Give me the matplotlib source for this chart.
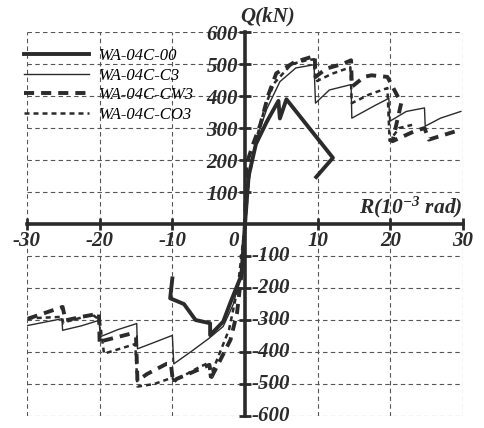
import numpy as np
import matplotlib
matplotlib.use('Agg')
import matplotlib.pyplot as plt

# skeleton curves, R in 1e-3 rad, Q in kN
x_00 = [-10.0, -10.3, -8.4, -6.8, -4.8, -4.8, -3.0, -2.0, -0.5, 0.0,
        0.5, 1.5, 3.0, 4.6, 4.8, 5.7, 12.1, 9.8]
y_00 = [-170, -232, -250, -300, -310, -347, -305, -245, -160, 0,
        150, 250, 320, 385, 330, 390, 207, 147]

x_c3 = [-29.9, -25.2, -25.1, -22.5, -20.1, -19.9, -17.5, -14.9, -14.8, -12.5,
        -10.0, -9.8, -7.5, -5.0, -3.0, -1.6, -0.5, 0.0,
        0.5, 1.5, 3.0, 4.8, 7.0, 9.5, 9.7, 11.6, 14.6, 14.7, 18.0, 19.8,
        19.9, 22.2, 24.7, 24.8, 26.9, 29.7]
y_c3 = [-317, -296, -332, -318, -301, -352, -330, -311, -390, -370,
        -348, -437, -400, -358, -320, -250, -150, 0,
        150, 260, 360, 445, 488, 498, 378, 419, 436, 331, 372, 393,
        321, 352, 363, 306, 331, 352]

x_cw3 = [-29.9, -25.1, -24.7, -22.5, -20.1, -20.0, -19.4, -15.8, -15.0, -14.8,
         -13.5, -10.8, -10.2, -9.9, -9.4, -6.2, -4.9, -4.6, -3.4, -2.0,
         -1.1, -0.3, 0.0,
         0.2, 1.1, 2.1, 3.2, 4.3, 6.8, 9.1, 9.6, 9.7, 11.2, 13.5, 14.6,
         14.7, 16.4, 17.4, 19.6, 21.5, 20.3, 23.3, 24.7, 25.3, 29.7]
y_cw3 = [-296, -259, -301, -290, -280, -375, -364, -343, -352, -490,
         -469, -437, -437, -495, -484, -453, -440, -478, -425, -362,
         -278, -120, 0,
         187, 249, 310, 403, 471, 506, 522, 525, 460, 486, 501, 512,
         429, 460, 465, 460, 378, 259, 290, 300, 264, 295]

x_co3 = [-29.9, -25.2, -25.0, -24.4, -21.0, -20.0, -19.4, -15.1, -14.8, -12.5,
         -10.0, -9.8, -7.8, -6.2, -5.0, -4.8, -3.6, -2.2, -1.0, 0.0,
         0.6, 1.5, 2.8, 4.0, 6.4, 8.5, 9.5, 9.7, 12.0, 14.5, 14.7, 17.1,
         19.6, 19.9, 21.2, 23.0]
y_co3 = [-295, -290, -310, -304, -283, -300, -405, -375, -508, -500,
         -480, -490, -466, -446, -434, -478, -410, -330, -200, 0,
         150, 260, 370, 440, 500, 512, 515, 445, 470, 490, 378, 405,
         425, 260, 300, 310]

names = ['WA-04C-00', 'WA-04C-C3', 'WA-04C-CW3', 'WA-04C-CO3']
x_ticks = [-30, -20, -10, 10, 20, 30]
y_ticks = [-600, -500, -400, -300, -200, -100, 100, 200, 300, 400, 500, 600]

ink = '#2b2b2b'
plt.rcParams['mathtext.fontset'] = 'custom'
plt.rcParams['mathtext.rm'] = 'Liberation Serif:bold:italic'
plt.rcParams['mathtext.it'] = 'Liberation Serif:bold:italic'
plt.rcParams['mathtext.bf'] = 'Liberation Serif:bold:italic'

fig = plt.figure(figsize=(4.84, 4.28), dpi=100)
ax = fig.add_axes([0.0558, 0.028, 0.9008, 0.897])

ax.plot(x_00, y_00, color=ink, lw=2.8, label=names[0], zorder=4)
ax.plot(x_c3, y_c3, color=ink, lw=1.0, label=names[1], zorder=4)
ax.plot(x_cw3, y_cw3, color=ink, lw=2.8, dashes=(2.6, 1.8), label=names[2], zorder=4)
ax.plot(x_co3, y_co3, color=ink, lw=1.8, dashes=(2.0, 1.6), label=names[3], zorder=4)

ax.set_xlim(-30, 30)
ax.set_ylim(-600, 600)
ax.set_xticks(x_ticks)
ax.set_yticks(y_ticks)
ax.grid(True, color='#555555', lw=0.8, ls=(0, (4, 3)))

for s in ['top', 'right']:
    ax.spines[s].set_visible(False)
for s in ['left', 'bottom']:
    ax.spines[s].set_position('zero')
    ax.spines[s].set_linewidth(2.6)
    ax.spines[s].set_color(ink)
    ax.spines[s].set_zorder(5)

tick_font = dict(family='Liberation Serif', weight='bold', style='italic', size=15)
ax.tick_params(direction='inout', length=8, width=2, color=ink, pad=1)
ax.set_xticklabels([str(v) for v in x_ticks], **tick_font, color=ink)
# positive Q labels sit left of the axis, negative ones right of it
ax.set_yticklabels([str(v) if v > 0 else '' for v in y_ticks], **tick_font, color=ink)
for v in y_ticks:
    if v < 0:
        ax.text(0.9, v, str(v), ha='left', va='center', color=ink, zorder=6, **tick_font)
ax.text(-0.9, -22, '0', ha='right', va='top', color=ink, **tick_font)

ax.text(-0.6, 618, 'Q(kN)', ha='left', va='bottom', color=ink, clip_on=False, **tick_font)
ax.text(30, 14, r'$R(10^{-3}\ rad)$', ha='right', va='bottom', color=ink, size=15.5)

ax.legend(loc='upper left', bbox_to_anchor=(0.05, 0.888), bbox_transform=fig.transFigure,
          frameon=False, borderpad=0, borderaxespad=0, handlelength=3.9,
          handletextpad=0.6, labelspacing=0.22,
          prop=dict(family='Liberation Serif', style='italic', size=12))

fig.savefig('out.png', dpi=100)
